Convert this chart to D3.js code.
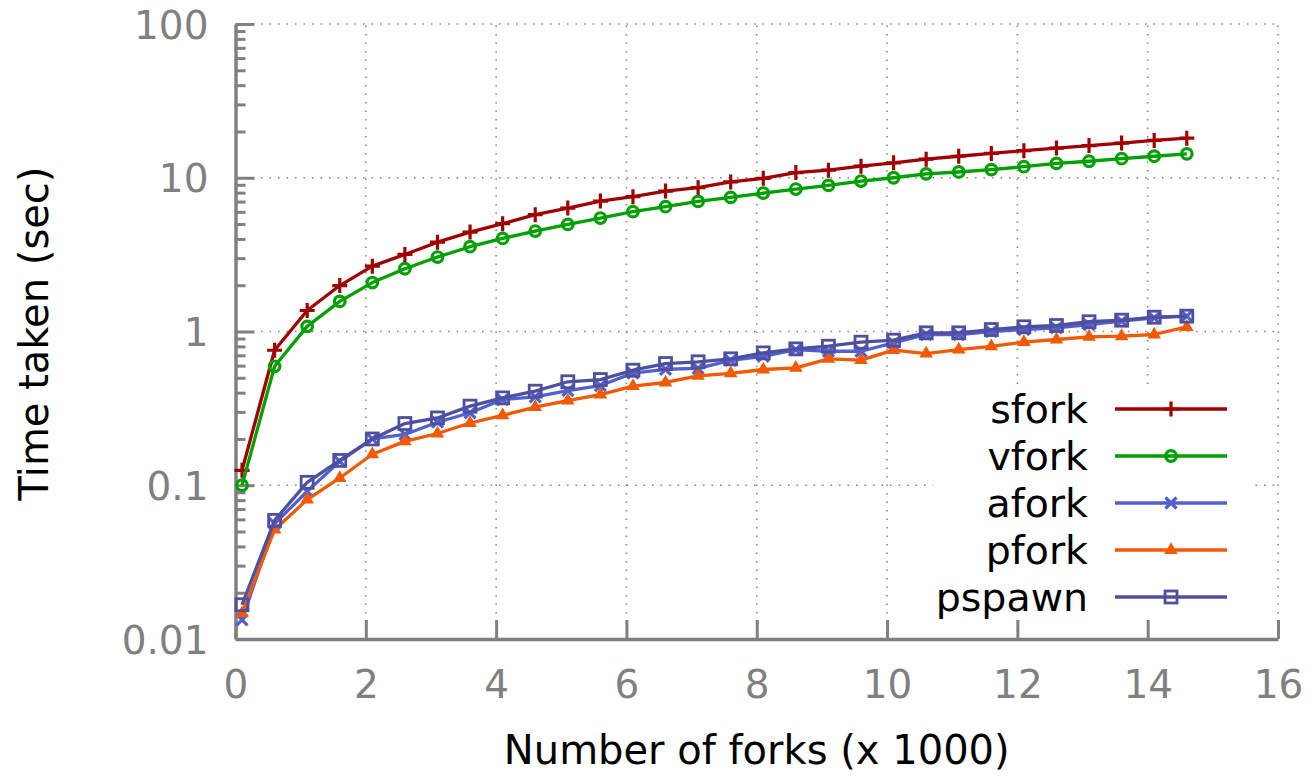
<!DOCTYPE html>
<html>
<head>
<meta charset="utf-8">
<script src="https://cdn.jsdelivr.net/npm/d3@7"></script>
<style>
  body { margin: 0; background: #fff; }
  text { font-family: "DejaVu Sans", sans-serif; }
</style>
</head>
<body>
<div id="chart"></div>
<script>
// Fork timing chart, log scale

// x values in thousands of forks
var forks = [0.1, 0.6, 1.1, 1.6, 2.1, 2.6, 3.1, 3.6, 4.1, 4.6, 5.1, 5.6, 6.1, 6.6, 7.1,
  7.6, 8.1, 8.6, 9.1, 9.6, 10.1, 10.6, 11.1, 11.6, 12.1, 12.6, 13.1, 13.6, 14.1, 14.6];

var sfork = [0.125, 0.755, 1.37, 1.99, 2.66, 3.17, 3.81, 4.43, 5.03, 5.75, 6.35, 7.05, 7.53, 8.19, 8.62,
  9.40, 9.91, 10.8, 11.2, 11.9, 12.5, 13.2, 13.8, 14.4, 15.0, 15.6, 16.2, 16.8, 17.5, 18.1];
var vfork = [0.100, 0.594, 1.08, 1.57, 2.08, 2.56, 3.05, 3.56, 4.03, 4.50, 4.97, 5.47, 6.02, 6.48, 7.02,
  7.45, 7.95, 8.44, 8.92, 9.52, 10.0, 10.6, 10.9, 11.3, 11.8, 12.4, 12.8, 13.3, 13.8, 14.3];
var afork = [0.0133, 0.0562, 0.0912, 0.143, 0.200, 0.214, 0.257, 0.296, 0.361, 0.376, 0.412, 0.445, 0.536, 0.568, 0.575,
  0.649, 0.690, 0.763, 0.744, 0.744, 0.844, 0.956, 0.956, 1.00, 1.03, 1.056, 1.11, 1.167, 1.228, 1.258];
var pfork = [0.0147, 0.0514, 0.0806, 0.1115, 0.159, 0.193, 0.217, 0.254, 0.285, 0.322, 0.355, 0.389, 0.441, 0.466, 0.515,
  0.534, 0.566, 0.580, 0.664, 0.651, 0.756, 0.719, 0.763, 0.80, 0.852, 0.887, 0.923, 0.932, 0.956, 1.07];
var pspawn = [0.0167, 0.0591, 0.1045, 0.145, 0.200, 0.252, 0.274, 0.327, 0.370, 0.409, 0.471, 0.487, 0.560, 0.619, 0.635,
  0.664, 0.726, 0.771, 0.802, 0.852, 0.878, 0.98, 0.98, 1.03, 1.073, 1.094, 1.157, 1.185, 1.239, 1.258];

var seriesNames = ['sfork', 'vfork', 'afork', 'pfork', 'pspawn'];
var seriesValues = [sfork, vfork, afork, pfork, pspawn];
var seriesColors = ['#a00000', '#00a000', '#5060d0', '#f25900', '#4f4fa0'];
var seriesMarkers = ['plus', 'circle', 'cross', 'triangle', 'square'];

var xTicks = [0, 2, 4, 6, 8, 10, 12, 14, 16];
var yTicks = [0.01, 0.1, 1, 10, 100];
var yTickLabels = ['0.01', '0.1', '1', '10', '100'];

var width = 1314, height = 777;
var margin = {top: 24, bottom: 138, left: 235.5, right: 36};
var axisColor = '#808080';

var svg = d3.select('#chart').append('svg')
  .attr('width', width)
  .attr('height', height);

var x = d3.scaleLinear().domain([0, 16]).range([margin.left, width - margin.right]);
var y = d3.scaleLog().domain([0.01, 100]).range([height - margin.bottom, margin.top]);

// minor ticks for the log axis
var minorTicks = [];
yTicks.slice(0, -1).forEach(function(d) {
  for (var k = 2; k <= 9; k++) minorTicks.push(d * k);
});

// dotted grid
var grid = svg.append('g')
  .attr('stroke', '#888')
  .attr('stroke-width', 1.6)
  .attr('stroke-dasharray', '1.6,6.9');
grid.selectAll('line.h')
  .data(yTicks.slice(1))
  .enter().append('line')
  .attr('x1', x(0)).attr('x2', x(16))
  .attr('y1', function(d) { return y(d); })
  .attr('y2', function(d) { return y(d); });
grid.selectAll('line.v')
  .data(xTicks.slice(1))
  .enter().append('line')
  .attr('x1', function(d) { return x(d); })
  .attr('x2', function(d) { return x(d); })
  .attr('y1', y(0.01)).attr('y2', y(100));

// axes
var yAxis = svg.append('g')
  .attr('transform', 'translate(' + x(0) + ',0)')
  .call(d3.axisLeft(y).tickValues(yTicks)
    .tickFormat(function(d, i) { return yTickLabels[i]; })
    .tickSizeInner(-19).tickSizeOuter(0).tickPadding(27));
svg.append('g')
  .attr('class', 'minor')
  .attr('transform', 'translate(' + x(0) + ',0)')
  .call(d3.axisLeft(y).tickValues(minorTicks).tickFormat('')
    .tickSizeInner(-10).tickSizeOuter(0))
  .select('.domain').remove();

var xAxis = svg.append('g')
  .attr('transform', 'translate(0,' + y(0.01) + ')')
  .call(d3.axisBottom(x).tickValues(xTicks)
    .tickSizeInner(-19).tickSizeOuter(0).tickPadding(29));

svg.selectAll('.domain, .tick line')
  .attr('stroke', axisColor)
  .attr('stroke-width', 3);
svg.selectAll('.domain').attr('stroke-width', 3.5);
svg.selectAll('.tick text')
  .attr('fill', axisColor)
  .style('font-family', '"DejaVu Sans", sans-serif')
  .style('font-size', '39px');
yAxis.selectAll('.tick text').attr('dy', '0.36em');
xAxis.selectAll('.tick text').attr('dy', '0.76em');

// axis titles
svg.append('text')
  .attr('x', (x(0) + x(16)) / 2)
  .attr('y', 764)
  .attr('text-anchor', 'middle')
  .style('font-size', '40px')
  .text('Number of forks (x 1000)');
svg.append('text')
  .attr('transform', 'translate(48,' + ((y(0.01) + y(100)) / 2 + 2) + ') rotate(-90)')
  .attr('text-anchor', 'middle')
  .style('font-size', '40px')
  .text('Time taken (sec)');

// marker shapes
function drawMarker(sel, kind, color) {
  if (kind === 'plus') {
    sel.append('path').attr('d', 'M-7.5,0H7.5M0,-7.5V7.5')
      .attr('stroke', color).attr('stroke-width', 3.2).attr('fill', 'none');
  } else if (kind === 'circle') {
    sel.append('circle').attr('r', 5.3)
      .attr('stroke', color).attr('stroke-width', 3.2).attr('fill', 'none');
  } else if (kind === 'cross') {
    sel.append('path').attr('d', 'M-5.5,-5.5L5.5,5.5M-5.5,5.5L5.5,-5.5')
      .attr('stroke', color).attr('stroke-width', 3.2).attr('fill', 'none');
  } else if (kind === 'triangle') {
    sel.append('path').attr('d', d3.symbol(d3.symbolTriangle, 80)())
      .attr('fill', color);
  } else if (kind === 'square') {
    sel.append('rect').attr('x', -6).attr('y', -6).attr('width', 12).attr('height', 12)
      .attr('stroke', color).attr('stroke-width', 2.8).attr('fill', 'none');
  }
}

// series
var line = d3.line()
  .x(function(d) { return x(d[0]); })
  .y(function(d) { return y(d[1]); });

seriesNames.forEach(function(name, i) {
  var pts = forks.map(function(f, j) { return [f, seriesValues[i][j]]; });
  var g = svg.append('g').attr('class', name);
  g.append('path')
    .datum(pts)
    .attr('d', line)
    .attr('fill', 'none')
    .attr('stroke', seriesColors[i])
    .attr('stroke-width', 3.3)
    .attr('stroke-linejoin', 'round');
  g.selectAll('g.pt')
    .data(pts)
    .enter().append('g')
    .attr('transform', function(d) { return 'translate(' + x(d[0]) + ',' + y(d[1]) + ')'; })
    .each(function() { drawMarker(d3.select(this), seriesMarkers[i], seriesColors[i]); });
});

// legend with opaque box
var legend = svg.append('g');
legend.append('rect')
  .attr('x', 933).attr('y', 388)
  .attr('width', 317).attr('height', 230)
  .attr('fill', '#fff');
seriesNames.forEach(function(name, i) {
  var ly = 409 + i * 47;
  legend.append('text')
    .attr('x', 1088).attr('y', ly)
    .attr('dy', '0.36em')
    .attr('text-anchor', 'end')
    .style('font-size', '39.5px')
    .text(name);
  legend.append('line')
    .attr('x1', 1115).attr('x2', 1227)
    .attr('y1', ly).attr('y2', ly)
    .attr('stroke', seriesColors[i])
    .attr('stroke-width', 3.3);
  drawMarker(legend.append('g').attr('transform', 'translate(1171,' + ly + ')'),
    seriesMarkers[i], seriesColors[i]);
});
</script>
</body>
</html>
